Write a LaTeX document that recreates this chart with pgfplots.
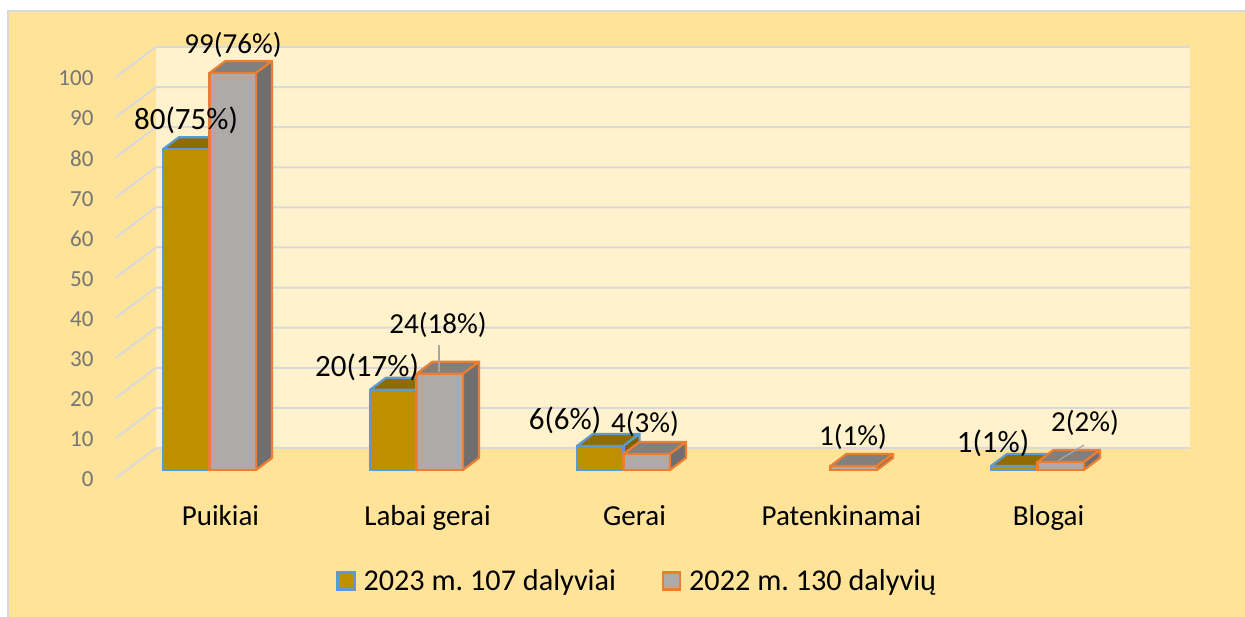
\documentclass[border=0pt]{standalone}
\usepackage{fontspec}
\setmainfont{Carlito}
\frenchspacing
\usepackage{pgfplots}
\pgfplotsset{compat=1.18}
\definecolor{bgY}{HTML}{FFE399}
\definecolor{wall}{HTML}{FFF2CC}
\definecolor{gridc}{HTML}{D9D9D9}
\definecolor{frame}{HTML}{D9D9D9}
\definecolor{aF}{HTML}{BF8F00}
\definecolor{aT}{HTML}{8F6B00}
\definecolor{aS}{HTML}{7F6000}
\definecolor{aE}{HTML}{5B9BD5}
\definecolor{bF}{HTML}{AEAAAA}
\definecolor{bT}{HTML}{827F7F}
\definecolor{bS}{HTML}{706E6E}
\definecolor{bE}{HTML}{ED7D31}
\definecolor{tickc}{HTML}{757575}
% one 3-D bar: #1 left x, #2 right x (category units), #3 value, #4 top colour, #5 side colour, #6 edge
\newcommand\depthfaces[6]{%
 \pgfmathsetmacro\xa{#1+0.0773}\pgfmathsetmacro\xb{#2+0.0773}\pgfmathsetmacro\ya{#3+3.0}%
 \addplot[forget plot,fill=#4,draw=#6,line width=2.2pt,line join=round] coordinates {(#1,#3) (\xa,\ya) (\xb,\ya) (#2,#3)} -- cycle;
 \addplot[forget plot,fill=#5,draw=#6,line width=2.2pt,line join=round] coordinates {(#2,0) (\xb,3) (\xb,\ya) (#2,#3)} -- cycle;
}
\newcommand\lbl[4][29]{\node[font=\fontsize{#1}{#1}\selectfont,inner sep=0pt,anchor=center] at ({#2pt-116pt},{470pt-#3pt}) {#4};}
\begin{document}
\begin{tikzpicture}[x=1pt,y=1pt]
\useasboundingbox (-116,-147) rectangle (1129,470);
\fill[white] (-116,-147) rectangle (1129,470);
\fill[bgY] (-108,-147) rectangle (1129,459);
\draw[frame,line width=2pt] (-108,-147) -- (-108,459) -- (1129,459);
\begin{axis}[
  at={(0pt,0pt)},anchor=south west,
  scale only axis,width=1074pt,height=401pt,
  xmin=-0.4517,xmax=4.7367,ymin=0,ymax=100,
  clip=false,
  axis line style={draw=none},
  tick style={draw=none},
  xtick={0,1,2,3,4},
  xticklabels={Puikiai,Labai gerai,Gerai,Patenkinamai,Blogai},
  xticklabel style={font=\fontsize{29}{29}\selectfont,text=black,xshift=11pt,yshift=-32pt},
  ytick={0,10,20,30,40,50,60,70,80,90,100},
  yticklabel style={font=\fontsize{23}{23}\selectfont,text=tickc,xshift=-19pt,yshift=-9.5pt},
  /pgf/number format/assume math mode=true,
  legend columns=2,
  legend cell align=left,
  legend style={at={(rel axis cs:0.4853,-0.2767)},anchor=center,draw=none,fill=none,
    font=\fontsize{30.2}{31}\selectfont,
    /tikz/every even column/.append style={column sep=44pt},
    /tikz/every odd column/.append style={column sep=6pt}},
  legend image code/.code={\draw[#1,line width=2.2pt] (0pt,-8.5pt) rectangle (17pt,8.5pt);},
]
% back wall and grid
\addplot[forget plot,fill=wall,draw=none] coordinates {(-0.2585,5.49) (4.7367,5.49) (4.7367,105.49) (-0.2585,105.49)} -- cycle;
\addplot[forget plot,gridc,line width=2pt] coordinates {(-0.4517,-2) (-0.2585,5.49) (4.7367,5.49)};
\addplot[forget plot,gridc,line width=2pt] coordinates {(-0.4517,8) (-0.2585,15.49) (4.7367,15.49)};
\addplot[forget plot,gridc,line width=2pt] coordinates {(-0.4517,18) (-0.2585,25.49) (4.7367,25.49)};
\addplot[forget plot,gridc,line width=2pt] coordinates {(-0.4517,28) (-0.2585,35.49) (4.7367,35.49)};
\addplot[forget plot,gridc,line width=2pt] coordinates {(-0.4517,38) (-0.2585,45.49) (4.7367,45.49)};
\addplot[forget plot,gridc,line width=2pt] coordinates {(-0.4517,48) (-0.2585,55.49) (4.7367,55.49)};
\addplot[forget plot,gridc,line width=2pt] coordinates {(-0.4517,58) (-0.2585,65.49) (4.7367,65.49)};
\addplot[forget plot,gridc,line width=2pt] coordinates {(-0.4517,68) (-0.2585,75.49) (4.7367,75.49)};
\addplot[forget plot,gridc,line width=2pt] coordinates {(-0.4517,78) (-0.2585,85.49) (4.7367,85.49)};
\addplot[forget plot,gridc,line width=2pt] coordinates {(-0.4517,88) (-0.2585,95.49) (4.7367,95.49)};
\addplot[forget plot,gridc,line width=2pt] coordinates {(-0.4517,98) (-0.2585,105.49) (4.7367,105.49)};
% 2023 series
\depthfaces{-0.2246}{0}{80}{aT}{aS}{aE}
\depthfaces{0.7754}{1}{20}{aT}{aS}{aE}
\depthfaces{1.7754}{2}{6}{aT}{aS}{aE}
\depthfaces{3.7754}{4}{1}{aT}{aS}{aE}
\addplot[ybar,bar width=46.5pt,bar shift=-23.25pt,fill=aF,draw=aE,line width=2.2pt] coordinates {(0,80) (1,20) (2,6) (4,1)};
% 2022 series
\depthfaces{0}{0.2246}{99}{bT}{bS}{bE}
\depthfaces{1}{1.2246}{24}{bT}{bS}{bE}
\depthfaces{2}{2.2246}{4}{bT}{bS}{bE}
\depthfaces{3}{3.2246}{1}{bT}{bS}{bE}
\depthfaces{4}{4.2246}{2}{bT}{bS}{bE}
\addplot[ybar,bar width=46.5pt,bar shift=23.25pt,fill=bF,draw=bE,line width=2.2pt] coordinates {(0,99) (1,24) (2,4) (3,1) (4,2)};
\addlegendimage{fill=aF,draw=aE}
\addlegendentry{2023 m. 107 dalyviai}
\addlegendimage{fill=bF,draw=bE}
\addlegendentry{2022 m. 130 dalyvių}
\end{axis}
\draw[gray!70,line width=1.2pt] (439-116,470-345) -- (439-116,470-372);
\draw[gray!70,line width=1.2pt] (1084-116,470-445) -- (1059-116,470-460);
\lbl{233}{45}{99(76\%)}
\lbl[31]{186}{120}{80(75\%)}
\lbl[31]{367}{367}{20(17\%)}
\lbl{438}{325}{24(18\%)}
\lbl[31]{565}{420}{6(6\%)}
\lbl{645}{424}{4(3\%)}
\lbl{853}{437}{1(1\%)}
\lbl[31]{993}{443}{1(1\%)}
\lbl{1085}{423}{2(2\%)}
\end{tikzpicture}
\end{document}
